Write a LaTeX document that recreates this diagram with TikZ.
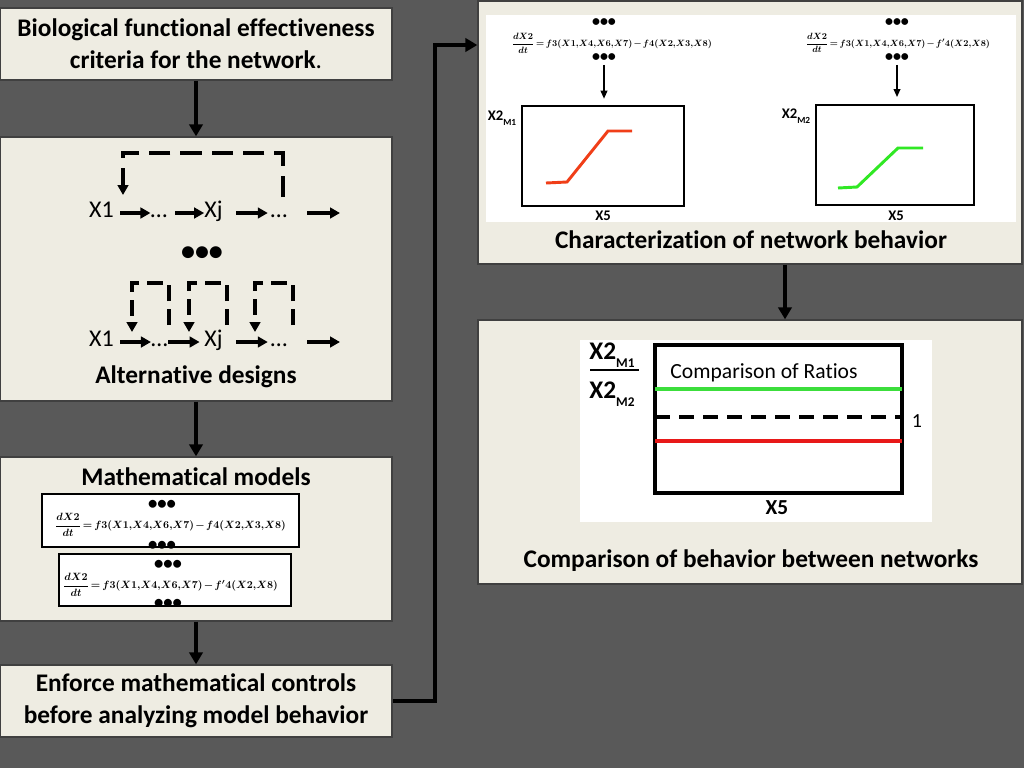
\documentclass[tikz,border=0pt]{standalone}
\usepackage{fontspec}
\setmainfont{Carlito}[Ligatures=NoCommon]
\usepackage{amsmath}
\usepackage{graphicx}
\usetikzlibrary{arrows.meta}
\definecolor{bgc}{RGB}{89,89,89}
\definecolor{cream}{RGB}{238,236,226}
\definecolor{curvered}{RGB}{240,62,24}
\definecolor{curvegreen}{RGB}{48,232,36}
\definecolor{ratiogreen}{RGB}{60,222,60}
\definecolor{ratiored}{RGB}{232,24,24}
\newcommand{\myTitleFont}{\bfseries\fontsize{19}{24}\selectfont}
\newcommand{\lowsub}[2]{\raisebox{-0.3em}{\fontsize{#1}{#1}\selectfont #2}}
\newcommand{\eqA}{{\boldmath\medmuskip=2mu\thickmuskip=3mu$\dfrac{dX2}{dt}=f3(X1{,}X4{,}X6{,}X7)-f4(X2{,}X3{,}X8)$}}
\newcommand{\eqB}{{\boldmath\medmuskip=2mu\thickmuskip=3mu$\dfrac{dX2}{dt}=f3(X1{,}X4{,}X6{,}X7)-f'4(X2{,}X8)$}}
\tikzset{
  panel/.style={draw=black!75, line width=1pt, fill=cream, inner sep=0pt, align=center, font=\myTitleFont},
  wpanel/.style={fill=white, inner sep=0pt},
  eqbox/.style={draw=black, line width=0.8pt, fill=white, inner sep=0pt},
  ttl/.style={font=\myTitleFont, inner sep=0pt, align=center},
  flow/.style={line width=3pt, -{Triangle[length=9pt,width=10pt]}},
  net/.style={line width=3pt, -{Triangle[length=7.5pt,width=8pt]}},
  fbA/.style={line width=3pt, dash pattern=on 16pt off 7.5pt, -{Triangle[length=7.5pt,width=8pt]}},
  fbB/.style={line width=3pt, dash pattern=on 12pt off 6pt, -{Triangle[length=7.5pt,width=8pt]}},
  lbl/.style={font=\fontsize{18}{20}\selectfont, inner sep=0pt, text height=9pt, text depth=3pt},
  bigdots/.style={font=\bfseries\fontsize{21}{21}\selectfont, inner sep=0pt},
  meddots/.style={font=\bfseries\fontsize{14}{14}\selectfont, inner sep=0pt},
  smalldots/.style={font=\bfseries\fontsize{12}{12}\selectfont, inner sep=0pt},
  thinarrow/.style={line width=1.2pt, -{Triangle[length=6pt,width=5pt]}},
  plotbox/.style={draw=black, line width=1.9pt, inner sep=0pt},
  cplotbox/.style={draw=black, line width=2.4pt, inner sep=0pt},
  smallbold/.style={font=\bfseries\fontsize{11}{11}\selectfont, inner sep=0pt},
}
\begin{document}
\begin{tikzpicture}[x=0.75pt,y=-0.75pt]
\useasboundingbox (0,0) rectangle (1024,768);
\fill[bgc] (0,0) rectangle (1024,768);

% ---------- left column boxes ----------
\node[panel, minimum width=294pt, minimum height=54pt] (b1) at (196,44)
  {Biological functional effectiveness\\criteria for the network{\mdseries .}};
\node[panel, minimum width=294pt, minimum height=198pt] (b2) at (196,269) {};
\node[panel, minimum width=294pt, minimum height=123pt] (b3) at (196,539) {};
\node[panel, minimum width=294pt, minimum height=54pt] (b4) at (196,701)
  {Enforce mathematical controls\\before analyzing model behavior};

% ---------- right column boxes ----------
\node[panel, minimum width=408pt, minimum height=197.25pt] (rt) at (750,132.5) {};
\node[panel, minimum width=408pt, minimum height=198pt] (rb) at (750,452) {};
\node[wpanel, minimum width=397.5pt, minimum height=155.25pt] (w1) at (751,118.5) {};
\node[wpanel, minimum width=264pt, minimum height=136.5pt] (w2) at (756,431) {};

% ---------- flow connectors ----------
\draw[flow] (b1.south) -- (b2.north);
\draw[flow] (b2.south) -- (b3.north);
\draw[flow] (b3.south) -- (b4.north);
\coordinate (bend) at (435,45);
\draw[flow] (b4.east) -| (bend) -- (bend -| rt.west);
\coordinate (cx) at (785,0);
\draw[flow] (rt.south -| cx) -- (rb.north -| cx);

% ---------- alternative designs ----------
% row 1
\node[lbl] (r1x1) at (101.5,213) {X1};
\node[lbl] (r1d1) at (159,213) {…};
\node[lbl] (r1xj) at (213.5,213) {Xj};
\node[lbl] (r1d2) at (279,213) {…};
\coordinate (r1end) at (340,213);
\draw[net, shorten <=4.5pt] (r1x1) -- (r1d1);
\draw[net, shorten <=5.8pt] (r1d1) -- (r1xj);
\draw[net, shorten <=10pt, shorten >=2pt] (r1xj) -- (r1d2);
\draw[net, shorten <=14.8pt] (r1d2) -- (r1end);
\coordinate (r1fbs) at (283,197);
\coordinate (r1fbe) at (123,195);
\draw[fbA] (r1fbs) -- (283,153) -- (123,153) -- (r1fbe);

\node[bigdots] (vdots) at (202,254) {•••};

% row 2
\node[lbl] (r2x1) at (101.5,342) {X1};
\node[lbl] (r2d1) at (159.5,342) {…};
\node[lbl] (r2xj) at (213.5,342) {Xj};
\node[lbl] (r2d2) at (279,342) {…};
\coordinate (r2end) at (340,342);
\draw[net, shorten <=4.5pt] (r2x1) -- (r2d1);
\draw[net, shorten >=3.4pt] (r2d1) -- (r2xj);
\draw[net, shorten <=10pt, shorten >=2pt] (r2xj) -- (r2d2);
\draw[net, shorten <=14.8pt] (r2d2) -- (r2end);
\coordinate (l1s) at (169,325); \coordinate (l1e) at (132,332);
\coordinate (l2s) at (227,325); \coordinate (l2e) at (189,332);
\coordinate (l3s) at (293,325); \coordinate (l3e) at (255,332);
\draw[fbB] (l1s) -- (169,283) -- (132,283) -- (l1e);
\draw[fbB] (l2s) -- (227,283) -- (189,283) -- (l2e);
\draw[fbB] (l3s) -- (293,283) -- (255,283) -- (l3e);

\node[ttl] (altd) at (196,377) {Alternative designs};

% ---------- mathematical models ----------
\node[ttl] (mathm) at (196,477) {Mathematical models};
\node[eqbox, minimum width=192.75pt, minimum height=39.75pt] (m1) at (170.5,520.5) {};
\node[inner sep=0pt] (m1eq) at (170.5,525) {\resizebox{173pt}{!}{\eqA}};
\node[meddots] (m1top) at (162,505) {•••};
\node[meddots] (m1bot) at (162,546) {•••};
\node[eqbox, minimum width=174pt, minimum height=39pt] (m2) at (175,580) {};
\node[inner sep=0pt] (m2eq) at (170.5,585) {\resizebox{161pt}{!}{\eqB}};
\node[meddots] (m2top) at (168,565) {•••};
\node[meddots] (m2bot) at (168,604) {•••};

% ---------- characterization ----------
\node[smalldots] (f1top) at (604,23) {•••};
\node[inner sep=0pt] (f1eq) at (612,43) {\resizebox{150pt}{!}{\eqA}};
\node[smalldots] (f1bot) at (604,58) {•••};
\node[plotbox, minimum width=121.5pt, minimum height=75pt] (p1) at (603,156) {};
\draw[thinarrow, shorten <=2pt, shorten >=4.5pt] (f1bot.south) -- (p1.north -| f1bot.south);
\draw[curvered, line width=2.2pt] (546,183) -- (567,182) -- (608,131) -- (632,131);
\node[smallbold] (p1y) at (502,118) {X2\lowsub{7}{M1}};
\node[smallbold] (p1x) at (603,216) {X5};

\node[smalldots] (f2top) at (897,23) {•••};
\node[inner sep=0pt] (f2eq) at (898,43) {\resizebox{138pt}{!}{\eqB}};
\node[smalldots] (f2bot) at (897,58) {•••};
\node[plotbox, minimum width=118.5pt, minimum height=75pt] (p2) at (895,155) {};
\draw[thinarrow, shorten <=2pt, shorten >=5pt] (f2bot.south) -- (p2.north -| f2bot.south);
\draw[curvegreen, line width=2.2pt] (838,188) -- (857,187) -- (898,148) -- (923,148);
\node[smallbold] (p2y) at (796,116) {X2\lowsub{7}{M2}};
\node[smallbold] (p2x) at (896,216) {X5};

\node[ttl] (chr) at (751,240) {Characterization of network behavior};

% ---------- comparison ----------
\node[cplotbox, minimum width=185.25pt, minimum height=111pt] (cp) at (778.5,419) {};
\draw[ratiogreen, line width=2.6pt] (655,389) -- (902,389);
\draw[black, line width=2.4pt, dash pattern=on 11pt off 7pt] (655,417) -- (902,417);
\draw[ratiored, line width=2.6pt] (655,441) -- (902,441);
\node[font=\fontsize{16.2}{18}\selectfont, inner sep=0pt] (cmpr) at (764,373) {Comparison of Ratios};
\node[font=\fontsize{15}{15}\selectfont, inner sep=0pt] (one) at (917,421) {1};
\node[font=\bfseries\fontsize{16}{16}\selectfont, inner sep=0pt] (cx5) at (777,508) {X5};
\node[font=\bfseries\fontsize{19}{19}\selectfont, inner sep=0pt] (num) at (612,355) {X2\lowsub{10}{M1}};
\draw[line width=2pt] (590,370) -- (639,370);
\node[font=\bfseries\fontsize{19}{19}\selectfont, inner sep=0pt] (den) at (612,394) {X2\lowsub{10}{M2}};

\node[ttl] (cmpb) at (751,561) {Comparison of behavior between networks};
\end{tikzpicture}
\end{document}
